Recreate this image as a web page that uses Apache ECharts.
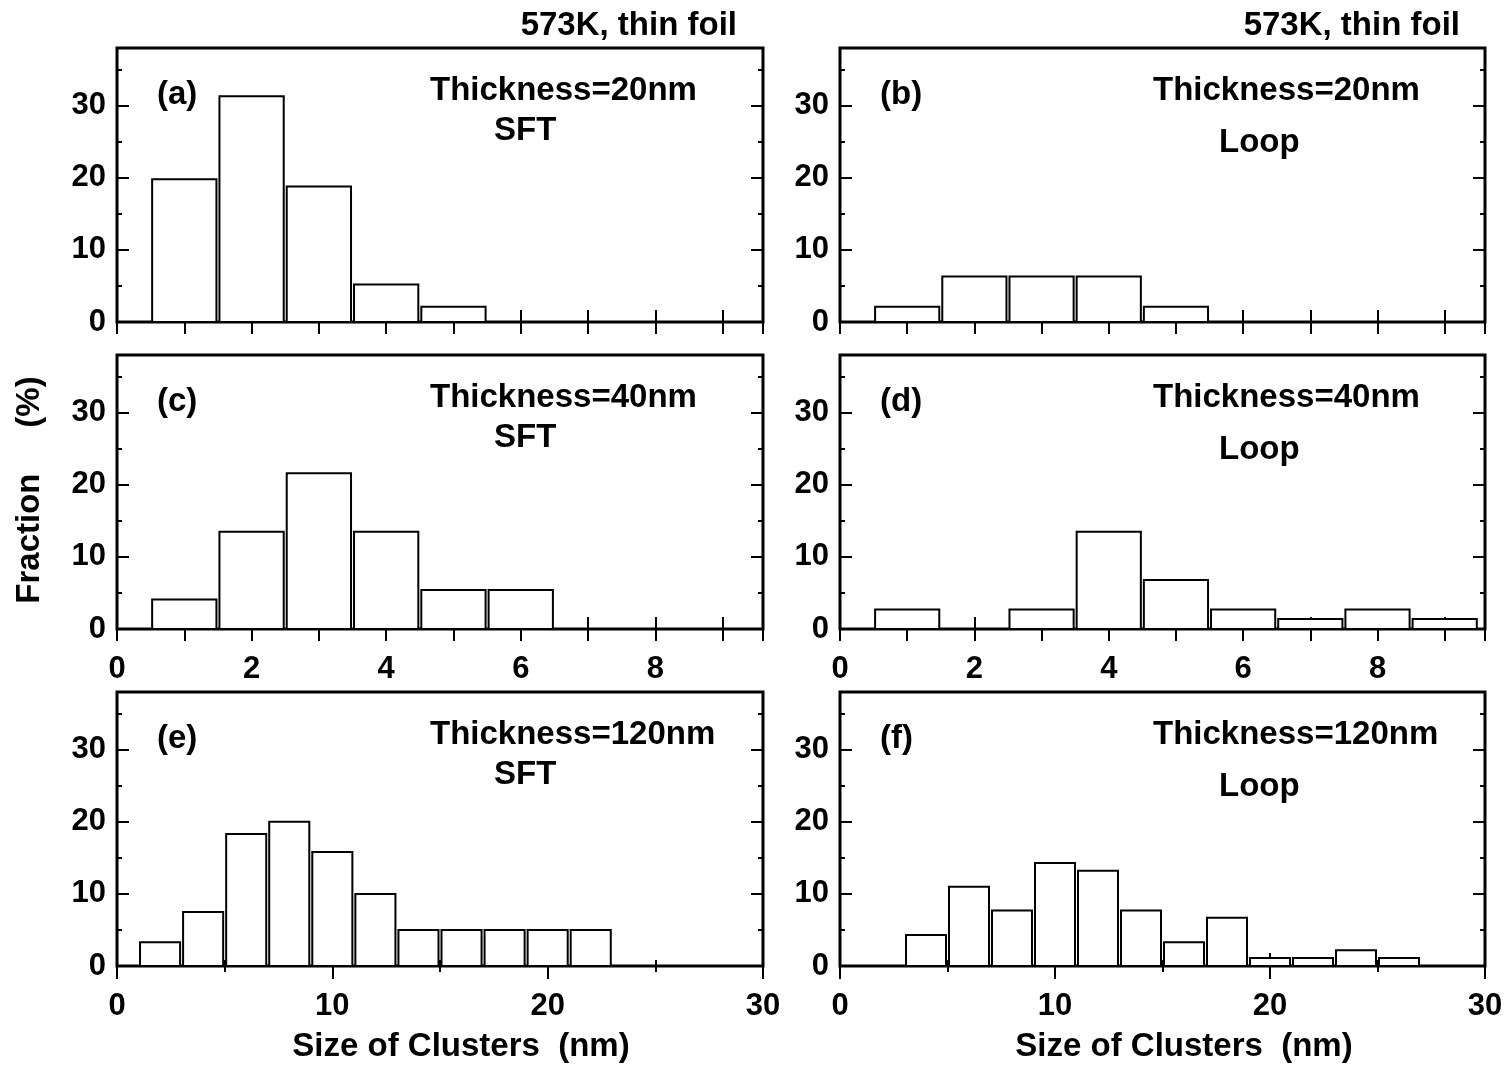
<!DOCTYPE html>
<html><head><meta charset="utf-8">
<script src="https://cdn.jsdelivr.net/npm/echarts@6/dist/echarts.min.js"></script>
<style>html,body{margin:0;padding:0;background:#fff}#c{width:1508px;height:1065px}</style>
</head><body><div id="c"></div>
<script>
// ---------------- data ----------------
const sizeSmall = [1, 2, 3, 4, 5, 6, 7, 8, 9];                              // bin centres (nm), width 1
const sizeLarge = [2, 4, 6, 8, 10, 12, 14, 16, 18, 20, 22, 24, 26, 28];     // bin centres (nm), width 2
const fracA = [19.8, 31.3, 18.8, 5.2, 2.1, 0, 0, 0, 0];
const fracB = [2.1, 6.3, 6.3, 6.3, 2.1, 0, 0, 0, 0];
const fracC = [4.1, 13.5, 21.6, 13.5, 5.4, 5.4, 0, 0, 0];
const fracD = [2.7, 0, 2.7, 13.5, 6.8, 2.7, 1.4, 2.7, 1.4];
const fracE = [3.3, 7.5, 18.3, 20.0, 15.8, 10.0, 5.0, 5.0, 5.0, 5.0, 5.0, 0, 0, 0];
const fracF = [0, 4.3, 11.0, 7.7, 14.3, 13.2, 7.7, 3.3, 6.7, 1.1, 1.1, 2.2, 1.1, 0];
const yTickLabels = [0, 10, 20, 30];
const xTickLabelsSmall = [0, 2, 4, 6, 8];
const xTickLabelsLarge = [0, 10, 20, 30];
const panelLabels = ['(a)', '(b)', '(c)', '(d)', '(e)', '(f)'];
const thicknessTexts = ['Thickness=20nm', 'Thickness=20nm', 'Thickness=40nm', 'Thickness=40nm', 'Thickness=120nm', 'Thickness=120nm'];
const typeTexts = ['SFT', 'Loop', 'SFT', 'Loop', 'SFT', 'Loop'];
const headerText = '573K, thin foil';
const yAxisTitle = 'Fraction     (%)';
const xAxisTitle = 'Size of Clusters  (nm)';

// ---------------- layout ----------------
const FF = '"Liberation Sans", Arial, Helvetica, sans-serif';
const tickFont = 31, textFont = 33;
const colLeft = [117, 840], colWidth = [646, 645];
const rowTop = [48, 355, 692], rowHeight = 274;

const panels = [
  { sizes: sizeSmall, bw: 1, vals: fracA },
  { sizes: sizeSmall, bw: 1, vals: fracB },
  { sizes: sizeSmall, bw: 1, vals: fracC },
  { sizes: sizeSmall, bw: 1, vals: fracD },
  { sizes: sizeLarge, bw: 2, vals: fracE },
  { sizes: sizeLarge, bw: 2, vals: fracF }
];

const black = '#000';
const grids = [], xAxes = [], yAxes = [], series = [], graphics = [];

function renderBar(params, api) {
  const x0 = api.value(0), x1 = api.value(1), v = api.value(2);
  const p0 = api.coord([x0, v]);
  const p1 = api.coord([x1, 0]);
  return {
    type: 'rect',
    shape: { x: p0[0] + 1.5, y: p0[1], width: p1[0] - p0[0] - 3, height: p1[1] - p0[1] },
    style: { fill: '#fff', stroke: black, lineWidth: 2 }
  };
}

panels.forEach((p, i) => {
  const row = Math.floor(i / 2), col = i % 2;
  const large = row === 2;
  grids.push({
    left: colLeft[col], top: rowTop[row], width: colWidth[col], height: rowHeight,
    show: true, borderColor: black, borderWidth: 3, backgroundColor: 'transparent',
    containLabel: false, outerBoundsMode: 'none'
  });
  const xMax = large ? 30 : 9.6;
  const xInt = large ? 10 : 1;
  const xLab = large ? xTickLabelsLarge : xTickLabelsSmall;
  const baseX = {
    type: 'value', gridIndex: i, min: 0, max: xMax, interval: xInt,
    axisLine: { show: false },
    axisTick: { show: true, inside: true, length: large ? 13 : 12, lineStyle: { color: black, width: 2 } },
    minorTick: large ? { show: true, splitNumber: 2, length: 6, lineStyle: { color: black, width: 2 } } : { show: false },
    splitLine: { show: false }, minorSplitLine: { show: false }
  };
  const xBottomIdx = xAxes.length;
  xAxes.push(Object.assign({}, baseX, {
    position: 'bottom',
    axisLabel: {
      show: row >= 1, color: black, fontSize: tickFont, fontWeight: 'bold', fontFamily: FF, margin: 25,
      formatter: v => (xLab.indexOf(v) >= 0 ? String(v) : '')
    }
  }));
  xAxes.push(Object.assign({}, baseX, { position: 'top', axisLabel: { show: false } }));

  const baseY = {
    type: 'value', gridIndex: i, min: 0, max: 38,
    axisLine: { show: false }, splitLine: { show: false }
  };
  const yLeftIdx = yAxes.length;
  yAxes.push(Object.assign({}, baseY, {
    position: 'left', interval: 10,
    axisTick: { show: true, inside: true, length: 12, lineStyle: { color: black, width: 2 } },
    axisLabel: {
      show: true, color: black, fontSize: tickFont, fontWeight: 'bold', fontFamily: FF, margin: 11,
      formatter: v => (yTickLabels.indexOf(v) >= 0 ? String(v) : '')
    }
  }));
  yAxes.push(Object.assign({}, baseY, {
    position: 'left', interval: 5,
    axisTick: { show: true, inside: true, length: 5, lineStyle: { color: black, width: 2 } },
    axisLabel: { show: false }
  }));
  yAxes.push(Object.assign({}, baseY, {
    position: 'right', interval: 10,
    axisTick: { show: true, inside: true, length: 12, lineStyle: { color: black, width: 2 } },
    axisLabel: { show: false }
  }));
  yAxes.push(Object.assign({}, baseY, {
    position: 'right', interval: 5,
    axisTick: { show: true, inside: true, length: 5, lineStyle: { color: black, width: 2 } },
    axisLabel: { show: false }
  }));

  series.push({
    type: 'custom', xAxisIndex: xBottomIdx, yAxisIndex: yLeftIdx,
    renderItem: renderBar, clip: false, z: 5,
    encode: { x: [0, 1], y: 2 },
    data: p.sizes.map((c, k) => [c - p.bw / 2, c + p.bw / 2, p.vals[k]])
  });

  // annotations
  const dy = rowTop[row] - rowTop[0];
  const lx = col === 0 ? 157 : 880;
  const tx = col === 0 ? 430 : 1153;
  const sx = col === 0 ? 494 : 1219;
  const sy = col === 0 ? 131 : 143;
  graphics.push(txt(panelLabels[i], lx, 95 + dy, 'left'));
  graphics.push(txt(thicknessTexts[i], tx, 91 + dy, 'left'));
  graphics.push(txt(typeTexts[i], sx, sy + dy, 'left'));
});

function txt(t, x, y, align, extra) {
  return Object.assign({
    type: 'text', x: x, y: y, z: 100,
    style: {
      text: t, fill: black, font: 'bold ' + textFont + 'px ' + FF,
      textAlign: align, textVerticalAlign: 'middle', align: align, verticalAlign: 'middle'
    }
  }, extra || {});
}

graphics.push(txt(headerText, 737, 26, 'right'));
graphics.push(txt(headerText, 1460, 26, 'right'));
graphics.push(txt(xAxisTitle, 461, 1047, 'center'));
graphics.push(txt(xAxisTitle, 1184, 1047, 'center'));
graphics.push(txt(yAxisTitle, 30, 490, 'center', { rotation: Math.PI / 2 }));

const chart = echarts.init(document.getElementById('c'), null, { renderer: 'canvas' });
chart.setOption({
  animation: false,
  backgroundColor: '#fff',
  grid: grids,
  xAxis: xAxes,
  yAxis: yAxes,
  series: series,
  graphic: { elements: graphics }
});
</script>
</body></html>
